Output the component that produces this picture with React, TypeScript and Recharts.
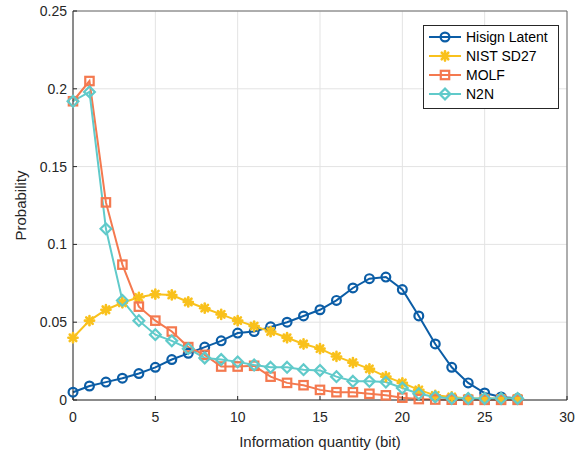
import React from 'react';
import { LineChart, Line, XAxis, YAxis, CartesianGrid, ReferenceLine } from 'recharts';

const xs = [0, 1, 2, 3, 4, 5, 6, 7, 8, 9, 10, 11, 12, 13, 14, 15, 16, 17, 18, 19, 20, 21, 22, 23, 24, 25, 26, 27];
const hisign = [0.005, 0.009, 0.0115, 0.014, 0.017, 0.021, 0.026, 0.030, 0.034, 0.038, 0.043, 0.044, 0.047, 0.050, 0.054, 0.058, 0.064, 0.072, 0.078, 0.079, 0.071, 0.054, 0.036, 0.021, 0.011, 0.0045, 0.002, 0.001];
const nist = [0.040, 0.051, 0.058, 0.0625, 0.066, 0.068, 0.0675, 0.063, 0.059, 0.055, 0.051, 0.0475, 0.044, 0.040, 0.036, 0.033, 0.028, 0.024, 0.020, 0.015, 0.011, 0.0065, 0.003, 0.002, 0.001, 0.001, 0.001, 0.001];
const molf = [0.192, 0.205, 0.127, 0.087, 0.060, 0.051, 0.044, 0.034, 0.029, 0.0215, 0.0215, 0.022, 0.015, 0.011, 0.0095, 0.0065, 0.005, 0.005, 0.004, 0.003, 0.0015, 0.0006, 0.0003, 0.0002, 0.0001, 0.0001, 0.0001, 0.0001];
const n2n = [0.192, 0.198, 0.110, 0.064, 0.051, 0.042, 0.038, 0.033, 0.027, 0.026, 0.0245, 0.0225, 0.021, 0.021, 0.0195, 0.019, 0.015, 0.012, 0.012, 0.0115, 0.0077, 0.004, 0.002, 0.001, 0.001, 0.001, 0.001, 0.001];

const xTicks = [0, 5, 10, 15, 20, 25, 30];
const yTicks = [0, 0.05, 0.1, 0.15, 0.2, 0.25];
const yTickLabels = ['0', '0.05', '0.1', '0.15', '0.2', '0.25'];

const seriesNames = ['Hisign Latent', 'NIST SD27', 'MOLF', 'N2N'];
const seriesKeys = ['hisign', 'nist', 'molf', 'n2n'];
const colors = ['#0b5da6', '#f9c11c', '#f4794f', '#60caca'];
const markers = ['circle', 'star', 'square', 'diamond'];

const data = xs.map((x, i) => ({ x, hisign: hisign[i], nist: nist[i], molf: molf[i], n2n: n2n[i] }));

const FONT = '"Liberation Sans", Arial, Helvetica, sans-serif';

function Marker({ type, cx, cy, color }: { type: string; cx: number; cy: number; color: string }) {
  const sw = 2.2;
  if (type === 'circle') {
    return <circle cx={cx} cy={cy} r={4.4} fill="none" stroke={color} strokeWidth={sw} />;
  }
  if (type === 'square') {
    const s = 4.2;
    return <rect x={cx - s} y={cy - s} width={2 * s} height={2 * s} fill="none" stroke={color} strokeWidth={sw} />;
  }
  if (type === 'diamond') {
    const s = 5.4;
    return <path d={`M${cx},${cy - s}L${cx + s},${cy}L${cx},${cy + s}L${cx - s},${cy}Z`} fill="none" stroke={color} strokeWidth={sw} />;
  }
  const s = 4.6;
  const d = s * 0.707;
  return (
    <g stroke={color} strokeWidth={2.6} strokeLinecap="round">
      <line x1={cx - s} y1={cy} x2={cx + s} y2={cy} />
      <line x1={cx} y1={cy - s} x2={cx} y2={cy + s} />
      <line x1={cx - d} y1={cy - d} x2={cx + d} y2={cy + d} />
      <line x1={cx - d} y1={cy + d} x2={cx + d} y2={cy - d} />
    </g>
  );
}

function makeDot(type: string, color: string) {
  return (props: any) => {
    const { cx, cy, index } = props;
    if (cx == null || cy == null) return <g key={`e-${index}`} />;
    return (
      <g key={`m-${type}-${index}`}>
        <Marker type={type} cx={cx} cy={cy} color={color} />
      </g>
    );
  };
}

function LegendBox() {
  return (
    <div
      style={{
        position: 'absolute',
        left: 423,
        top: 25,
        border: '1px solid #262626',
        background: '#fff',
        width: 136,
        height: 84,
        boxSizing: 'border-box',
        fontFamily: FONT,
      }}
    >
      <svg width={134} height={82} style={{ position: 'absolute', left: 0, top: 0 }}>
        {seriesNames.map((n, i) => {
          const y = 11 + i * 19;
          return (
            <g key={n}>
              <line x1={5} y1={y} x2={37} y2={y} stroke={colors[i]} strokeWidth={2} />
              <Marker type={markers[i]} cx={21} cy={y} color={colors[i]} />
              <text x={42} y={y + 5} fontSize={14} fontFamily={FONT} fill="#000">
                {n}
              </text>
            </g>
          );
        })}
      </svg>
    </div>
  );
}

export default function App() {
  return (
    <div style={{ position: 'absolute', left: 0, top: 0, width: 584, height: 453, background: '#fff' }}>
      <LineChart width={584} height={453} data={data} margin={{ top: 11, right: 17, left: 23, bottom: 28 }}>
        <CartesianGrid stroke="#e3e3e3" strokeWidth={1} />
        <ReferenceLine y={0.25} stroke="#6a6a6a" strokeWidth={1} />
        <ReferenceLine x={30} stroke="#6a6a6a" strokeWidth={1} />
        <XAxis
          dataKey="x"
          type="number"
          domain={[0, 30]}
          ticks={xTicks}
          interval={0}
          height={25}
          axisLine={{ stroke: '#262626', strokeWidth: 1 }}
          tickLine={{ stroke: '#262626' }}
          tickSize={-4}
          tickMargin={16}
          tick={{ fontSize: 14, fontFamily: FONT, fill: '#262626' }}
          label={{ value: 'Information quantity (bit)', position: 'insideBottom', offset: -22, fontSize: 15, fontFamily: FONT, fill: '#262626' }}
        />
        <YAxis
          type="number"
          domain={[0, 0.25]}
          ticks={yTicks}
          interval={0}
          width={50}
          axisLine={{ stroke: '#262626', strokeWidth: 1 }}
          tickLine={{ stroke: '#262626' }}
          tickSize={-4}
          tickMargin={10}
          tickFormatter={(v: number) => yTickLabels[yTicks.indexOf(v)] ?? String(v)}
          tick={{ fontSize: 14, fontFamily: FONT, fill: '#262626' }}
          label={{ value: 'Probability', angle: -90, position: 'insideLeft', offset: -2, fontSize: 15, fontFamily: FONT, fill: '#262626', style: { textAnchor: 'middle' } }}
        />
        {seriesKeys.map((k, i) => (
          <Line
            key={k}
            dataKey={k}
            name={seriesNames[i]}
            stroke={colors[i]}
            strokeWidth={2}
            dot={makeDot(markers[i], colors[i])}
            activeDot={false}
            isAnimationActive={false}
          />
        ))}
      </LineChart>
      <LegendBox />
    </div>
  );
}
